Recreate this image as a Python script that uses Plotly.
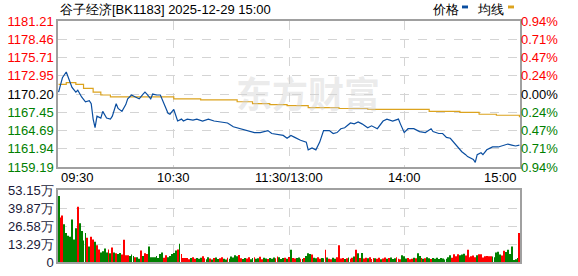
import plotly.graph_objects as go

# ---------------- data ----------------
TITLE = "谷子经济[BK1183] 2025-12-29 15:00"
PRICE_TICKS = [1159.19, 1161.94, 1164.69, 1167.45, 1170.20, 1172.95, 1175.71, 1178.46, 1181.21]
PCT_LABELS = ["0.94%", "0.71%", "0.47%", "0.24%", "0.00%", "0.24%", "0.47%", "0.71%", "0.94%"]
VOL_TICKS = [0, 13.29, 26.58, 39.87, 53.15]
VOL_LABELS = ["0", "13.29万", "26.58万", "39.87万", "53.15万"]
TIME_LABELS = ["09:30", "10:30", "11:30/13:00", "14:00", "15:00"]
TIME_POS = [0, 60, 120, 180, 240]
PREV_CLOSE = 1170.20

PRICE_MIN = [0, 1, 2, 4, 5, 6, 7, 9, 10, 12, 14, 16, 17, 18, 19, 20, 22, 23, 25, 27, 28, 30, 31, 33, 35, 36, 38, 40,
             42, 44, 45, 46, 48, 49, 51, 53, 55, 57, 58, 60, 62, 64, 65, 67, 70, 72, 75, 78, 81, 84, 88, 91, 95, 98,
             102, 105, 109, 111, 114, 117, 119, 121, 123, 126, 129, 130, 132, 134, 136, 138, 141, 143, 145, 147, 149,
             152, 154, 156, 158, 161, 163, 166, 169, 171, 174, 177, 178, 180, 182, 185, 187, 188, 191, 194, 195, 198,
             200, 202, 204, 206, 208, 209, 210, 212, 213, 216, 217, 218, 220, 221, 223, 225, 226, 229, 232, 234, 236,
             238, 240]
PRICE = [1170.49, 1171.50, 1172.66, 1173.53, 1172.66, 1172.08, 1171.21, 1170.49, 1170.78, 1169.77, 1169.04, 1169.19,
         1168.75, 1166.43, 1165.13, 1166.87, 1166.58, 1167.59, 1166.58, 1166.43, 1166.87, 1168.75, 1168.03, 1167.59,
         1168.61, 1169.48, 1170.06, 1169.77, 1169.48, 1170.20, 1170.49, 1170.20, 1169.48, 1170.20, 1170.06, 1170.06,
         1168.75, 1167.30, 1167.16, 1167.88, 1166.14, 1166.43, 1166.14, 1166.43, 1166.29, 1166.43, 1166.14, 1166.43,
         1166.14, 1166.00, 1165.85, 1165.27, 1164.98, 1164.69, 1164.40, 1164.40, 1164.69, 1164.26, 1164.12, 1163.97,
         1163.54, 1163.97, 1163.68, 1163.25, 1162.96, 1161.80, 1162.09, 1161.80, 1162.96, 1164.69, 1164.69, 1164.26,
         1164.40, 1164.98, 1165.13, 1165.85, 1165.71, 1166.00, 1165.71, 1165.13, 1165.42, 1164.98, 1166.14, 1166.43,
         1166.14, 1166.43, 1165.71, 1164.40, 1164.98, 1164.98, 1164.69, 1164.55, 1164.40, 1164.98, 1164.55, 1164.26,
         1164.26, 1163.68, 1163.54, 1162.81, 1162.23, 1161.80, 1161.51, 1161.07, 1160.78, 1160.35, 1159.91, 1161.07,
         1161.36, 1161.07, 1161.80, 1162.09, 1162.23, 1162.23, 1162.52, 1162.67, 1162.52, 1162.38, 1162.52]

AVG_MIN = [0, 4, 9, 13, 18, 22, 27, 39, 60, 74, 84, 93, 101, 110, 119, 130, 146, 161, 178, 193, 209, 219, 228, 240]
AVG = [1171.65, 1171.94, 1171.65, 1171.07, 1170.49, 1170.06, 1169.77, 1169.77, 1169.48, 1169.33, 1169.33, 1169.04,
       1168.75, 1168.61, 1168.46, 1168.17, 1168.03, 1167.88, 1167.88, 1167.59, 1167.45, 1167.16, 1167.01, 1166.72]

VOLUME = [48.9, 33.0, 34.5, 28.0, 21.5, 19.5, 18.7, 31.6, 16.7, 25.0,
          41.0, 28.8, 23.0, 16.0, 21.5, 18.0, 11.5, 18.7, 16.7, 15.0,
          12.5, 9.3, 7.0, 7.9, 10.0, 7.0, 9.3, 6.5, 10.8, 7.0,
          6.5, 6.0, 6.7, 5.5, 16.5, 5.0, 5.0, 4.5, 5.5, 4.5,
          3.5, 3.6, 2.5, 8.5, 4.5, 6.5, 6.0, 11.5, 3.6, 3.6,
          3.5, 4.5, 2.9, 6.0, 7.0, 3.1, 5.0, 3.6, 4.5, 6.0,
          6.7, 8.5, 9.3, 13.6, 6.0, 2.9, 2.9, 2.9, 2.0, 2.9,
          3.5, 2.5, 3.0, 2.5, 3.2, 4.3, 2.8, 2.0, 3.5, 2.6,
          1.8, 2.9, 3.4, 2.2, 2.7, 3.6, 2.4, 1.9, 3.1, 2.5,
          4.0, 3.3, 5.0, 4.2, 5.2, 2.8, 2.2, 3.0, 2.6, 3.5,
          2.1, 2.9, 3.6, 2.4, 2.7, 3.9, 2.0, 3.2, 2.6, 2.3,
          3.0, 2.5, 3.4, 2.8, 4.0, 3.5, 2.2, 2.9, 3.1, 2.4,
          3.7, 9.0, 3.0, 2.6, 2.9, 3.3, 2.5, 2.2, 3.0, 4.5,
          6.5, 6.0, 5.5, 3.2, 2.8, 3.5, 2.4, 3.0, 2.7, 9.0,
          3.3, 2.5, 2.0, 3.1, 2.4, 3.6, 12.5, 2.6, 3.0, 2.2,
          2.8, 3.4, 2.5, 3.1, 4.0, 9.0, 6.5, 3.0, 6.7, 2.6,
          3.2, 2.8, 3.5, 2.3, 3.0, 2.7, 2.4, 3.1, 2.0, 2.6,
          3.3, 2.5, 2.9, 3.4, 2.2, 2.8, 3.6, 2.5, 2.0, 5.0,
          4.2, 2.6, 3.0, 2.1, 2.5, 3.2, 2.8, 6.5, 4.5, 3.0,
          2.4, 2.7, 3.6, 2.8, 2.3, 2.9, 2.5, 3.1, 2.2, 3.0,
          2.6, 1.8, 2.4, 3.6, 5.0, 3.2, 5.7, 4.3, 5.7, 5.0,
          5.5, 6.2, 4.8, 9.0, 3.5, 4.2, 4.8, 3.6, 5.0, 5.8,
          5.8, 3.4, 4.2, 4.4, 4.2, 4.3, 4.0, 3.5, 7.0, 7.7,
          5.5, 4.8, 8.4, 7.5, 9.1, 6.0, 11.5, 1.5, 2.0, 3.0,
          21.5]
VOL_DIR = list("grrgggggggrggggrgrrgrrggggrgrgrggrrrrgggrggrgrrggggggggrrgggggrgrrrrrgr"
               "rgggrrggrgrggrrggrgggggrrggrrggrggrrggrgggrrgggrgrgrrggrgrgggrggrrggrgrrggrr"
               "rrgrgrrgrgrgrrgrrrgrrgrrgrgggrrrgggrrrgrggrgrggrggggggggggrrrrgggrrrrrrgrrrrrrrgggg")

# ---------------- styling ----------------
RED = "#ff0000"
GREEN = "#008000"
BLUE = "#0a4ea0"
GOLD = "#dca31e"
GRID = "#d4d4d4"
BORDER = "#a0a0a0"
FONT = "Liberation Sans, Arial, sans-serif"
FS = 13

W, H = 578, 276
ML, MR, MT, MB = 58, 58, 21, 6
PH = H - MT - MB


def py(px):
    return (H - MB - px) / PH


def lab_color(v):
    if v > PREV_CLOSE + 1e-6:
        return RED
    if v < PREV_CLOSE - 1e-6:
        return GREEN
    return "#000000"


left_text = [f'<span style="color:{lab_color(v)}">{v:.2f}</span>' for v in PRICE_TICKS]
right_text = [f'<span style="color:{lab_color(v)}">{t}</span>' for v, t in zip(PRICE_TICKS, PCT_LABELS)]

n = len(VOLUME)
bar_colors = [RED if VOL_DIR[i % len(VOL_DIR)] == "r" else GREEN for i in range(n)]

fig = go.Figure()
fig.add_trace(go.Scatter(x=AVG_MIN, y=AVG, mode="lines", line=dict(color=GOLD, width=1.2, shape="hv"),
                         xaxis="x", yaxis="y", hoverinfo="skip"))
fig.add_trace(go.Scatter(x=PRICE_MIN, y=PRICE, mode="lines", line=dict(color=BLUE, width=1.2),
                         xaxis="x", yaxis="y", hoverinfo="skip"))
fig.add_trace(go.Scatter(x=[0, 240], y=[PRICE_TICKS[0], PRICE_TICKS[-1]], mode="markers",
                         marker=dict(opacity=0), xaxis="x", yaxis="y3", hoverinfo="skip"))
fig.add_trace(go.Bar(x=list(range(n)), y=VOLUME, marker=dict(color=bar_colors, line=dict(width=0)),
                     xaxis="x2", yaxis="y2", hoverinfo="skip"))

price_bottom = py(172)
vol_top = py(196)

common_x = dict(range=[-0.3, 240.3], tickvals=TIME_POS[1:-1], showticklabels=False, showgrid=True,
                gridcolor=GRID, griddash="dash", gridwidth=1, zeroline=False, showline=True,
                linecolor=BORDER, linewidth=1.5, mirror=True, ticks="", fixedrange=True)

fig.update_layout(
    width=W, height=H,
    margin=dict(l=ML, r=MR, t=MT, b=MB, pad=0),
    paper_bgcolor="white", plot_bgcolor="white",
    showlegend=False, bargap=0.55,
    font=dict(family=FONT, size=FS, color="#000000"),
    xaxis=dict(domain=[0, 1], anchor="y", **common_x),
    xaxis2=dict(domain=[0, 1], anchor="y2", **common_x),
    yaxis=dict(domain=[price_bottom, 1], range=[PRICE_TICKS[0], PRICE_TICKS[-1]], tickvals=PRICE_TICKS,
               ticktext=left_text, showgrid=True, gridcolor=GRID, griddash="dash", zeroline=False,
               showline=True, linecolor=BORDER, linewidth=1.5, mirror=True, ticks="", ticklen=0,
               tickfont=dict(size=FS, family=FONT)),
    yaxis3=dict(overlaying="y", side="right", anchor="x", range=[PRICE_TICKS[0], PRICE_TICKS[-1]],
                tickvals=PRICE_TICKS, ticktext=right_text, showgrid=False, zeroline=False, ticks="",
                tickfont=dict(size=FS, family=FONT)),
    yaxis2=dict(domain=[0, vol_top], range=[0, VOL_TICKS[-1]], tickvals=VOL_TICKS, ticktext=VOL_LABELS,
                showgrid=True, gridcolor=GRID, griddash="dash", zeroline=False, showline=True,
                linecolor=BORDER, linewidth=1.5, mirror=True, ticks="",
                tickfont=dict(size=FS, family=FONT, color="#1a1a3a")),
)

ann = []
# watermark (drawn first, beneath other text)
ann.append(dict(text="<b>东方财富</b>", xref="paper", yref="paper", x=(308 - ML) / (W - ML - MR), y=py(94),
                xanchor="center", yanchor="middle", showarrow=False,
                font=dict(size=36, family="Noto Sans CJK SC", color="rgba(210,210,210,0.45)")))
# title
ann.append(dict(text=TITLE, xref="paper", yref="paper", x=0, y=py(9), xanchor="left", yanchor="middle",
                showarrow=False, font=dict(size=FS, family=FONT, color="#000000")))
# legend
ann.append(dict(text="价格", xref="paper", yref="paper", x=(430 - ML) / (W - ML - MR), y=py(9), xanchor="left",
                yanchor="middle", showarrow=False, font=dict(size=FS, family=FONT)))
ann.append(dict(text="均线", xref="paper", yref="paper", x=(475 - ML) / (W - ML - MR), y=py(9), xanchor="left",
                yanchor="middle", showarrow=False, font=dict(size=FS, family=FONT)))
# time labels
anchors = ["left", "center", "center", "center", "right"]
for t, pos, a in zip(TIME_LABELS, TIME_POS, anchors):
    ann.append(dict(text=t, xref="x", yref="paper", x=pos, y=py(183), xanchor=a, yanchor="middle",
                    showarrow=False, font=dict(size=FS, family=FONT, color="#000000")))
fig.update_layout(annotations=ann)

pw = W - ML - MR
shapes = [
    dict(type="rect", xref="paper", yref="paper", x0=(462 - ML) / pw, x1=(468 - ML) / pw, y0=py(8), y1=py(5),
         fillcolor=BLUE, line=dict(width=0)),
    dict(type="rect", xref="paper", yref="paper", x0=(508 - ML) / pw, x1=(514 - ML) / pw, y0=py(8), y1=py(5),
         fillcolor=GOLD, line=dict(width=0)),
]
fig.update_layout(shapes=shapes)

fig.write_html("out.html")
